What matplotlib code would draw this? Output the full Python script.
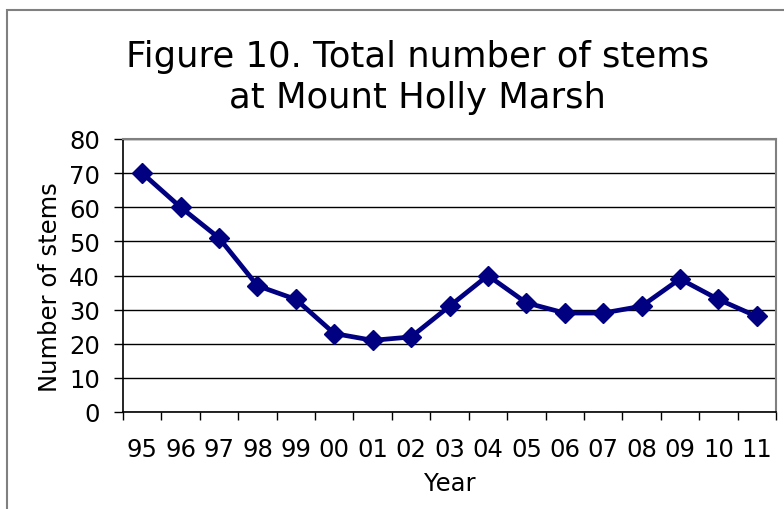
import matplotlib.pyplot as plt
import numpy as np
from matplotlib.patches import Rectangle

years = ["95", "96", "97", "98", "99", "00", "01", "02", "03",
         "04", "05", "06", "07", "08", "09", "10", "11"]
stems = [70, 60, 51, 37, 33, 23, 21, 22, 31, 40, 32, 29, 29, 31, 39, 33, 28]

plt.rcParams['font.family'] = ['Verdana', 'DejaVu Sans']

fig = plt.figure(figsize=(7.84, 5.10), dpi=100)
# chart area border (cut off at the right and bottom)
fig.patches.append(Rectangle((7 / 784, -0.1), 1.2, (510 - 11) / 510 + 0.1,
                             transform=fig.transFigure, fill=False,
                             edgecolor='#808080', linewidth=1.5))

ax = fig.add_axes([123 / 784, 97 / 510, 653 / 784, 273 / 510])

x = np.arange(len(years))
ax.plot(x, stems, color='#000080', linewidth=3.4, marker='D',
        markersize=10.5, markerfacecolor='#000080', markeredgecolor='#000080')

ax.set_xlim(-0.5, len(years) - 0.5)
ax.set_ylim(0, 80)
ax.set_yticks(np.arange(0, 81, 10))
ax.set_xticks(x)
ax.set_xticklabels(years)
ax.set_xticks(np.arange(-0.5, len(years)), minor=True)
ax.tick_params(axis='x', which='major', length=0, pad=18, labelsize=17.5)
ax.tick_params(axis='x', which='minor', length=6, width=1, color='black')
ax.tick_params(axis='y', length=6.5, width=1, labelsize=17.5, pad=10)

ax.yaxis.grid(True, color='black', linewidth=1)
ax.set_axisbelow(True)
for side in ['top', 'right']:
    ax.spines[side].set_color('#808080')
    ax.spines[side].set_linewidth(1.5)
for side in ['left', 'bottom']:
    ax.spines[side].set_color('black')
    ax.spines[side].set_linewidth(1.2)

ax.set_xlabel("Year", fontsize=17.5, labelpad=7)
ax.set_ylabel("Number of stems", fontsize=17.5)
ax.yaxis.set_label_coords(-0.093, 0.46)

fig.text(0.533, 0.848, "Figure 10. Total number of stems\nat Mount Holly Marsh",
         ha='center', va='center', fontsize=25.5, linespacing=1.25)

fig.savefig("out.png", dpi=100)
